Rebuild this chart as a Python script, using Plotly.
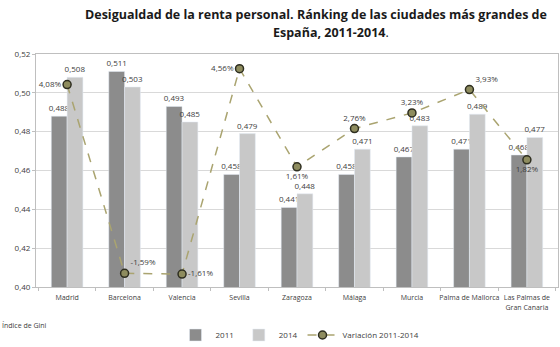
import plotly.graph_objects as go

cities = ["Madrid", "Barcelona", "Valencia", "Sevilla", "Zaragoza", "Málaga", "Murcia",
          "Palma de Mallorca", "Las Palmas de<br>Gran Canaria"]
gini_2011 = [0.488, 0.511, 0.493, 0.458, 0.441, 0.458, 0.467, 0.471, 0.468]
gini_2014 = [0.508, 0.503, 0.485, 0.479, 0.448, 0.471, 0.483, 0.489, 0.477]
variation = [4.08, -1.59, -1.61, 4.56, 1.61, 2.76, 3.23, 3.93, 1.82]
var_text_pos = ["middle left", "top right", "middle right", "middle left", "bottom center",
                "top center", "top center", "top right", "bottom center"]

FONT = "Open Sans"
LBL = dict(family=FONT, size=8, color="#404040")

fig = go.Figure()
fig.add_trace(go.Bar(
    x=cities, y=gini_2011, name="2011", marker=dict(color="#8c8c8c"),
    text=gini_2011, texttemplate="%{y:.3f}", textposition="outside",
    textfont=LBL, cliponaxis=False, constraintext="none"))
fig.add_trace(go.Bar(
    x=cities, y=gini_2014, name="2014", marker=dict(color="#c8c8c8"),
    text=gini_2014, texttemplate="%{y:.3f}", textposition="outside",
    textfont=LBL, cliponaxis=False, constraintext="none"))
fig.add_trace(go.Scatter(
    x=cities, y=variation, name="Variación 2011-2014", yaxis="y2",
    mode="lines+markers+text",
    line=dict(color="#aaa470", width=1.5, dash="dash"),
    marker=dict(size=8, color="#8e8c5e", line=dict(color="#2e2e20", width=1.5)),
    texttemplate="%{y:.2f}%", textposition=var_text_pos, textfont=LBL,
    cliponaxis=False))

pw = 560 - 36 - 2
ph = 347 - 54 - 60
def px(xp):
    return (xp - 36) / pw
def py(yp):
    return (347 - 60 - yp) / ph

TITLE = dict(family=FONT, size=12.5, color="#1a1a1a")

fig.update_layout(
    width=560, height=347,
    margin=dict(l=36, r=2, t=54, b=60, autoexpand=False),
    paper_bgcolor="white", plot_bgcolor="white",
    separators=",.",
    barmode="group", bargap=0.45, bargroupgap=0,
    showlegend=True,
    legend=dict(orientation="h", x=px(300), xanchor="center", y=py(335), yanchor="middle",
                font=dict(family=FONT, size=8, color="#404040"),
                itemwidth=30, tracegroupgap=0),
    xaxis=dict(showline=True, linecolor="#bfbfbf", mirror=True, ticks="outside",
               tickson="boundaries", ticklen=3, tickcolor="#bfbfbf", tickangle=0,
               automargin=False, ticklabelstandoff=4,
               tickfont=dict(family=FONT, size=7, color="#404040")),
    yaxis=dict(range=[0.40, 0.52], dtick=0.02, tickformat=".2f",
               showgrid=True, gridcolor="#d9d9d9", gridwidth=1,
               showline=True, linecolor="#bfbfbf", mirror=True, automargin=False,
               ticks="outside", ticklen=3, tickcolor="#bfbfbf",
               tickfont=dict(family=FONT, size=8, color="#404040"), zeroline=False),
    yaxis2=dict(range=[-2, 5], overlaying="y", side="right", visible=False),
    annotations=[
        dict(text="<b>Desigualdad de la renta personal. Ránking de las ciudades más grandes de</b>",
             xref="paper", yref="paper", x=px(316), y=py(14), xanchor="center",
             yanchor="middle", showarrow=False, font=TITLE),
        dict(text="<b>España, 2011-2014</b>.",
             xref="paper", yref="paper", x=px(331), y=py(33), xanchor="center",
             yanchor="middle", showarrow=False, font=TITLE),
        dict(text="Índice de Gini", xref="paper", yref="paper", x=px(0), y=py(325),
             xanchor="left", yanchor="middle", showarrow=False,
             font=dict(family=FONT, size=7, color="#404040")),
    ],
)

fig.write_html("out.html")
